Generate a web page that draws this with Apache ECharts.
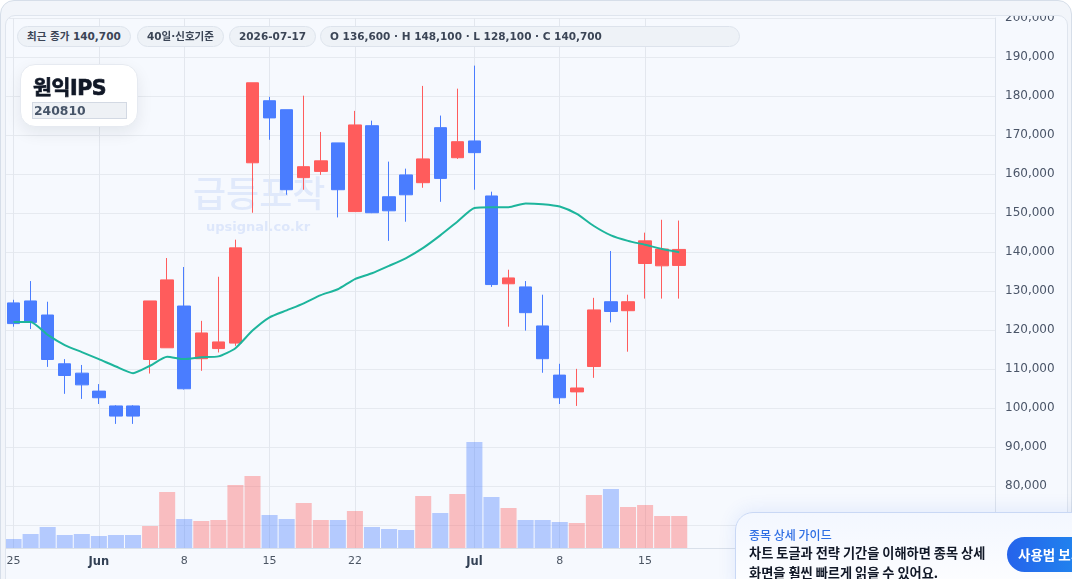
<!DOCTYPE html>
<html>
<head>
<meta charset="utf-8">
<title>원익IPS</title>
<script src="https://cdn.jsdelivr.net/npm/echarts@6.0.0/dist/echarts.min.js"></script>
<style>
    html, body { margin: 0; padding: 0; background: #ffffff; width: 1072px; height: 579px; overflow: hidden; }
    .card { position: absolute; left: 0; top: 0; width: 1070px; height: 620px; border: 1px solid #d6dee9; border-radius: 14px; background: #f2f5fa; }
    .frame { position: absolute; left: 5px; top: 15px; width: 1061px; height: 600px; border: 1px solid #dfe5ee; border-radius: 10px; background: #f6f9fe; overflow: hidden; }
    #chart { position: absolute; left: -6px; top: -16px; width: 1072px; height: 579px; }
    .chip { position: absolute; top: 26px; height: 19px; line-height: 19px; padding: 0 9px; border: 1px solid #dde3ec; border-radius: 11px; background: #eef2f7; color: #3b4556;
        font-family: "DejaVu Sans", "Noto Sans CJK KR", sans-serif; font-size: 10.5px; font-weight: bold; white-space: nowrap; box-sizing: content-box; }
    .title-card { position: absolute; left: 20px; top: 64px; width: 116px; height: 61px; background: #ffffff; border: 1px solid #e6eaf1; border-radius: 15px;
        box-shadow: 0 6px 16px rgba(15, 23, 42, 0.08); }
    .title-card .name { position: absolute; left: 12px; top: 6px; font-family: "DejaVu Sans", "Noto Sans CJK KR", sans-serif; font-size: 20.5px; font-weight: bold; color: #111827;
        letter-spacing: -0.4px; -webkit-text-stroke: 0.7px #111827; }
    .title-card .code { position: absolute; left: 11px; top: 37px; width: 92px; height: 15px; line-height: 15px; padding-left: 1px; background: #eef1f5; border: 1px solid #d3d9e3;
        font-family: "DejaVu Sans", sans-serif; font-size: 12.4px; font-weight: bold; color: #475569; }
    .guide { position: absolute; left: 735px; top: 512px; width: 380px; height: 90px; border: 1px solid #c9d8f5; border-radius: 18px;
        background: linear-gradient(180deg, #f3f7ff 0%, #ffffff 100%); box-shadow: 0 -2px 18px rgba(37, 99, 235, 0.10); font-family: "Noto Sans CJK KR", sans-serif; }
    .guide .g-title { position: absolute; left: 13px; top: 13px; font-size: 12px; color: #2f6fe4; font-weight: 500; }
    .guide .g-text { position: absolute; left: 13px; top: 30px; font-size: 13.2px; line-height: 20px; color: #111827; font-weight: bold; white-space: nowrap; }
    .guide .g-btn { position: absolute; left: 271px; top: 24px; width: 110px; height: 35px; line-height: 35px; border-radius: 18px; padding-left: 11px;
        background: linear-gradient(90deg, #2563eb 0%, #1d9bf0 100%); color: #ffffff; font-size: 13.5px; font-weight: bold; white-space: nowrap; }
</style>
</head>
<body>
<div class="card"></div>
<div class="frame"><div id="chart"></div></div>

<div class="chip" style="left:17px;">최근 종가 140,700</div>
<div class="chip" style="left:137px;">40일·신호기준</div>
<div class="chip" style="left:229px;">2026-07-17</div>
<div class="chip" style="left:320px; width:400px;">O 136,600 · H 148,100 · L 128,100 · C 140,700</div>

<div class="title-card">
    <div class="name">원익IPS</div>
    <div class="code">240810</div>
</div>

<div class="guide">
    <div class="g-title">종목 상세 가이드</div>
    <div class="g-text">차트 토글과 전략 기간을 이해하면 종목 상세<br>화면을 훨씬 빠르게 읽을 수 있어요.</div>
    <div class="g-btn">사용법 보기</div>
</div>

<script>
    // 40 trading days
    var dates = ['2026-05-25', '2026-05-26', '2026-05-27', '2026-05-28', '2026-05-29',
        '2026-06-01', '2026-06-02', '2026-06-03', '2026-06-04', '2026-06-05',
        '2026-06-08', '2026-06-09', '2026-06-10', '2026-06-11', '2026-06-12',
        '2026-06-15', '2026-06-16', '2026-06-17', '2026-06-18', '2026-06-19',
        '2026-06-22', '2026-06-23', '2026-06-24', '2026-06-25', '2026-06-26',
        '2026-06-29', '2026-06-30', '2026-07-01', '2026-07-02', '2026-07-03',
        '2026-07-06', '2026-07-07', '2026-07-08', '2026-07-09', '2026-07-10',
        '2026-07-13', '2026-07-14', '2026-07-15', '2026-07-16', '2026-07-17'];
    var opens = [127000, 127500, 123900, 111400, 109000, 104400, 100600, 100600, 112500, 115500,
        126200, 112700, 115300, 116700, 162900, 178800, 176500, 159100, 160700, 168000,
        150400, 172400, 154200, 159800, 157800, 171900, 164200, 168500, 154400, 131900,
        131100, 121100, 108500, 104200, 110700, 127300, 125000, 137100, 136500, 136600];
    var closes = [121700, 122000, 112500, 108400, 106000, 102700, 98000, 98000, 127500, 132900,
        105000, 119300, 117000, 141100, 183400, 174400, 156000, 161900, 163400, 156000,
        172600, 150100, 150600, 154700, 163900, 158900, 168300, 165500, 131700, 133400,
        124500, 112700, 102700, 105200, 125200, 124800, 127300, 142900, 140800, 140700];
    var lows = [120900, 120300, 110600, 103700, 102400, 101100, 96000, 96000, 108900, 115500,
        104800, 109600, 114300, 116000, 150100, 168800, 154700, 156000, 159800, 148900,
        150400, 150000, 142900, 147800, 156500, 152900, 163900, 156000, 131100, 120900,
        119900, 109100, 101100, 100600, 107800, 122000, 114500, 128100, 128100, 128100];
    var highs = [127800, 132600, 127300, 112600, 111100, 106200, 100800, 100800, 127500, 138500,
        136200, 122400, 133700, 143200, 183400, 179800, 176500, 180100, 170800, 168000,
        176200, 173700, 163200, 161400, 182600, 175000, 181900, 187800, 155500, 135500,
        132600, 129100, 111400, 110100, 128300, 140300, 129100, 145000, 148300, 148100];
    var volumes = [90000, 140000, 210000, 130000, 140000, 120000, 130000, 130000, 220000, 560000,
        290000, 270000, 280000, 630000, 720000, 330000, 290000, 450000, 280000, 280000,
        370000, 210000, 190000, 180000, 520000, 350000, 540000, 1060000, 510000, 400000,
        280000, 280000, 260000, 250000, 530000, 590000, 410000, 430000, 320000, 320000];
    var ma = [122100, 122100, 118800, 116200, 114400, 112600, 110700, 109000, 110900, 113200,
        112600, 113100, 113300, 115400, 119900, 123300, 125100, 126900, 129000, 130500,
        133100, 134600, 136500, 138500, 141100, 144300, 147800, 151300, 151500, 151500,
        152500, 152300, 151700, 149800, 146700, 144300, 142900, 141900, 140800, 140000];

    var tickDates = ['2026-05-25', '2026-06-01', '2026-06-08', '2026-06-15', '2026-06-22', '2026-07-01', '2026-07-08', '2026-07-15'];
    var tickTexts = ['25', 'Jun', '8', '15', '22', 'Jul', '8', '15'];

    var upColor = '#ff5c5c';
    var downColor = '#4a7dff';

    // empty slots on the right side of the axis
    var catData = dates.slice();
    for (var p = 0; p < 18; p++) {
        catData.push('pad' + p);
    }

    var candleData = dates.map(function (d, i) {
        return [opens[i], closes[i], lows[i], highs[i]];
    });
    var volData = volumes.map(function (v, i) {
        return {
            value: v,
            itemStyle: {color: closes[i] >= opens[i] ? 'rgba(255,92,92,0.38)' : 'rgba(74,125,255,0.38)'}
        };
    });

    var chart = echarts.init(document.getElementById('chart'));
    var option = {
        animation: false,
        backgroundColor: 'transparent',
        textStyle: {fontFamily: 'DejaVu Sans'},
        graphic: [{
            type: 'text',
            left: 193,
            top: 175,
            z: 0,
            style: {text: '급등포착', fontSize: 36, fontFamily: 'Noto Sans CJK KR', fontWeight: 500, fill: 'rgba(80,130,235,0.13)'}
        }, {
            type: 'text',
            left: 206,
            top: 221,
            z: 0,
            style: {text: 'upsignal.co.kr', fontSize: 13, fontWeight: 'bold', fontFamily: 'DejaVu Sans', fill: 'rgba(80,130,235,0.15)'}
        }],
        grid: [{
            left: 5,
            right: 77,
            top: 18,
            bottom: 31
        }, {
            left: 5,
            right: 77,
            top: 438,
            bottom: 31
        }],
        xAxis: [{
            type: 'category',
            gridIndex: 0,
            data: catData,
            boundaryGap: true,
            axisLine: {lineStyle: {color: '#d9e0ea'}},
            axisTick: {show: false},
            splitLine: {show: false},
            axisLabel: {
                color: '#4b5563',
                fontSize: 11,
                margin: 8,
                interval: function (idx, value) {
                    return tickDates.indexOf(value) >= 0;
                },
                formatter: function (value) {
                    var t = tickTexts[tickDates.indexOf(value)];
                    if (t === undefined) return '';
                    return isNaN(t) ? '{m|' + t + '}' : t;
                },
                rich: {
                    m: {fontWeight: 'bold', color: '#334155', fontSize: 11.5}
                }
            }
        }, {
            type: 'category',
            gridIndex: 1,
            data: catData,
            boundaryGap: true,
            show: false
        }],
        yAxis: [{
            type: 'value',
            gridIndex: 0,
            position: 'right',
            min: 64200,
            max: 200000,
            splitNumber: 14,
            axisLine: {show: true, lineStyle: {color: '#dde3ec'}},
            axisTick: {show: false},
            axisLabel: {
                color: '#4a5568',
                fontSize: 12,
                margin: 10,
                showMinLabel: false,
                formatter: function (v) {
                    return v.toLocaleString('en-US');
                }
            },
            splitLine: {lineStyle: {color: '#e6eaf0'}}
        }, {
            type: 'value',
            gridIndex: 1,
            min: 0,
            max: 1100000,
            show: false,
            splitLine: {show: false}
        }],
        series: [{
            name: '원익IPS',
            type: 'candlestick',
            xAxisIndex: 0,
            yAxisIndex: 0,
            barWidth: 13,
            data: candleData,
            itemStyle: {
                color: upColor,
                color0: downColor,
                borderColor: upColor,
                borderColor0: downColor,
                borderWidth: 1
            },
            markLine: {
                silent: true,
                z: 1,
                symbol: ['none', 'none'],
                label: {show: false},
                lineStyle: {color: '#e3e7ee', width: 1, type: 'solid'},
                data: tickDates.map(function (d) {
                    return {xAxis: d};
                })
            }
        }, {
            name: 'MA',
            type: 'line',
            xAxisIndex: 0,
            yAxisIndex: 0,
            data: ma,
            smooth: 0.2,
            symbol: 'none',
            lineStyle: {color: '#1db59c', width: 2}
        }, {
            name: '거래량',
            type: 'bar',
            xAxisIndex: 1,
            yAxisIndex: 1,
            barCategoryGap: '6%',
            data: volData
        }]
    };
    chart.setOption(option);
</script>
</body>
</html>
